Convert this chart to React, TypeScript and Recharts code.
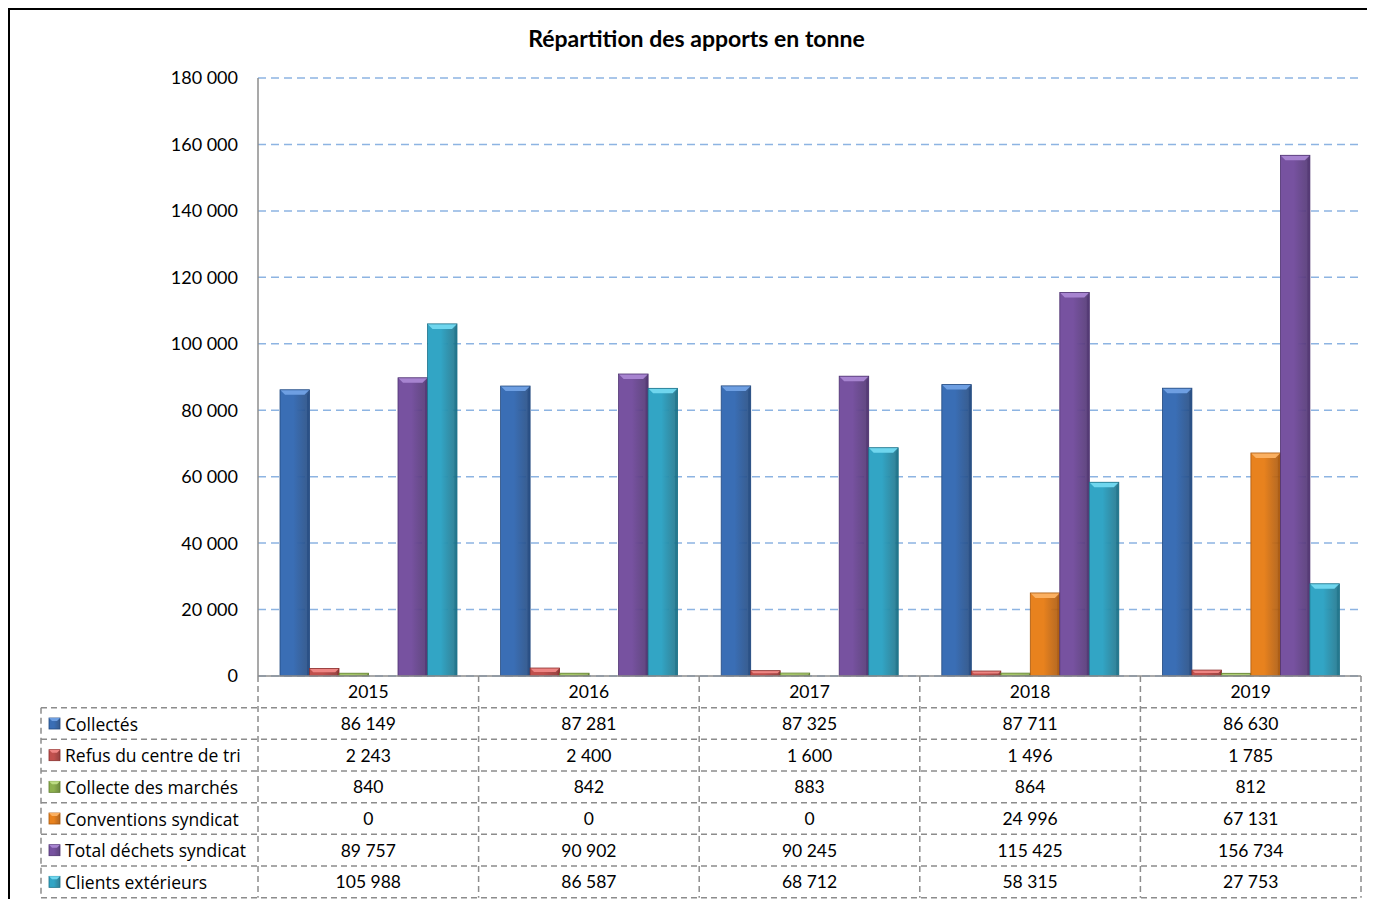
import { BarChart, Bar, XAxis, YAxis, CartesianGrid } from "recharts";

const years = ["2015", "2016", "2017", "2018", "2019"];
const collectes = [86149, 87281, 87325, 87711, 86630];
const refus = [2243, 2400, 1600, 1496, 1785];
const marches = [840, 842, 883, 864, 812];
const conventions = [0, 0, 0, 24996, 67131];
const totalSyndicat = [89757, 90902, 90245, 115425, 156734];
const clients = [105988, 86587, 68712, 58315, 27753];
const yTicks = [0, 20000, 40000, 60000, 80000, 100000, 120000, 140000, 160000, 180000];

const SERIES = [
  { key: "collectes", name: "Collectés", values: collectes, color: "#3A6EB5", light: "#6E9FE2", dark: "#234A80" },
  { key: "refus", name: "Refus du centre de tri", values: refus, color: "#C0504D", light: "#EE8583", dark: "#8A2F2D" },
  { key: "marches", name: "Collecte des marchés", values: marches, color: "#8DB04F", light: "#BDDC84", dark: "#5F7D2C" },
  { key: "conventions", name: "Conventions syndicat", values: conventions, color: "#E8821E", light: "#FBB061", dark: "#A9570C" },
  { key: "total", name: "Total déchets syndicat", values: totalSyndicat, color: "#7752A0", light: "#A784D0", dark: "#4E3370" },
  { key: "clients", name: "Clients extérieurs", values: clients, color: "#32A5C5", light: "#6FD6EE", dark: "#1D7289" },
];

const rows = years.map((year, i) => {
  const r: Record<string, string | number> = { year };
  SERIES.forEach((s) => (r[s.key] = s.values[i]));
  return r;
});

const W = 1367;
const H = 891;
const PLOT_LEFT = 250;
const PLOT_RIGHT = 1353;
const PLOT_TOP = 70;
const PLOT_BOTTOM = 668;
const ROW_H = 31.67;
const TABLE_LEFT = 33;
const FONT = "Lato, 'Open Sans', sans-serif";
const LABEL_FONT = "'Open Sans', Lato, sans-serif";

const fmt = (n: number) => String(n).replace(/\B(?=(\d{3})+(?!\d))/g, " ");

function BevelBar(props: any) {
  const { x, y, width, height, s } = props;
  if (!height || height <= 0) return null;
  const b = Math.min(5, height / 2, width / 4);
  return (
    <g>
      <rect x={x} y={y} width={width} height={height} fill={`url(#grad-${s.key})`} />
      <polygon
        points={`${x},${y} ${x + width},${y} ${x + width - b},${y + b} ${x + b},${y + b}`}
        fill={s.light}
      />
      <polygon
        points={`${x + width},${y} ${x + width - b / 2},${y + b} ${x + width - b / 2},${y + height} ${x + width},${y + height}`}
        fill={s.dark}
        opacity={0.6}
      />
      <rect x={x} y={y} width={width} height={height} fill="none" stroke={s.dark} strokeWidth={0.8} />
    </g>
  );
}

function TableTick(props: any) {
  const { x, y, payload } = props;
  const i = payload.index;
  return (
    <g fontFamily={FONT} fontSize={17.5} fill="#000">
      <text x={x} y={y + ROW_H * 0.5} textAnchor="middle" dominantBaseline="central">
        {years[i]}
      </text>
      {SERIES.map((s, k) => (
        <text key={s.key} x={x} y={y + ROW_H * (k + 1.5)} textAnchor="middle" dominantBaseline="central">
          {fmt(s.values[i])}
        </text>
      ))}
    </g>
  );
}

function TableOverlay() {
  const band = (PLOT_RIGHT - PLOT_LEFT) / years.length;
  const bottom = PLOT_BOTTOM + ROW_H * 7;
  const dash = { stroke: "#8C8C8C", strokeWidth: 1.5, strokeDasharray: "6 4" };
  return (
    <svg width={W} height={H} style={{ position: "absolute", left: 0, top: 0, pointerEvents: "none" }}>
      <text x={688.5} y={39} textAnchor="middle" fontFamily={FONT} fontWeight="bold" fontSize={23}>
        Répartition des apports en tonne
      </text>
      {SERIES.map((s, k) => {
        const yl = PLOT_BOTTOM + ROW_H * (k + 1);
        return <line key={s.key} x1={TABLE_LEFT} x2={PLOT_RIGHT} y1={yl} y2={yl} {...dash} />;
      })}
      <line x1={TABLE_LEFT} x2={PLOT_RIGHT} y1={bottom} y2={bottom} {...dash} />
      <line x1={TABLE_LEFT} x2={TABLE_LEFT} y1={PLOT_BOTTOM + ROW_H} y2={bottom} {...dash} />
      {years.map((_, k) => (
        <line key={k} x1={PLOT_LEFT + band * k} x2={PLOT_LEFT + band * k} y1={PLOT_BOTTOM} y2={bottom} {...dash} />
      ))}
      <line x1={PLOT_RIGHT} x2={PLOT_RIGHT} y1={PLOT_BOTTOM} y2={bottom} {...dash} />
      {SERIES.map((s, k) => {
        const cy = PLOT_BOTTOM + ROW_H * (k + 1.5);
        return (
          <g key={s.key}>
            <rect x={TABLE_LEFT + 8} y={cy - 5.5} width={11} height={11} fill={`url(#grad-${s.key})`} stroke={s.dark} strokeWidth={0.8} />
            <polygon
              points={`${TABLE_LEFT + 8},${cy - 5.5} ${TABLE_LEFT + 19},${cy - 5.5} ${TABLE_LEFT + 16},${cy - 2.5} ${TABLE_LEFT + 11},${cy - 2.5}`}
              fill={s.light}
            />
            <text x={TABLE_LEFT + 24} y={cy} dominantBaseline="central" fontFamily={LABEL_FONT} fontSize={17.5} fill="#000">
              {s.name}
            </text>
          </g>
        );
      })}
    </svg>
  );
}

export default function App() {
  return (
    <div style={{ position: "relative", width: W, height: H }}>
      <style>{`html, body { overflow: hidden; }`}</style>
      <div
        style={{
          position: "absolute",
          left: 0,
          top: 0,
          width: W + 20,
          height: H + 20,
          borderTop: "2px solid #000",
          borderLeft: "2px solid #000",
          boxSizing: "border-box",
        }}
      />
      <div style={{ position: "absolute", left: 0, top: 0 }}>
        <BarChart
          width={W}
          height={H}
          data={rows}
          margin={{ top: PLOT_TOP, right: W - PLOT_RIGHT, bottom: 0, left: 0 }}
          barSize={29.5}
          barGap={0}
        >
          <defs>
            {SERIES.map((s) => (
              <linearGradient key={s.key} id={`grad-${s.key}`} x1="0" y1="0" x2="1" y2="0">
                <stop offset="0%" stopColor={s.color} />
                <stop offset="45%" stopColor={s.color} />
                <stop offset="100%" stopColor={s.dark} stopOpacity={0.9} />
              </linearGradient>
            ))}
          </defs>
          <CartesianGrid vertical={false} stroke="#8DB4E2" strokeDasharray="8 5" strokeWidth={1.5} />
          <XAxis
            dataKey="year"
            height={H - PLOT_BOTTOM}
            axisLine={{ stroke: "#8C8C8C", strokeWidth: 1.5 }}
            tickLine={false}
            tickSize={0}
            tickMargin={0}
            interval={0}
            tick={<TableTick />}
          />
          <YAxis
            width={PLOT_LEFT}
            domain={[0, 180000]}
            ticks={yTicks}
            tickFormatter={fmt}
            axisLine={{ stroke: "#8C8C8C", strokeWidth: 1.5 }}
            tickLine={false}
            tickMargin={14}
            tick={{ fontSize: 18, fill: "#000", fontFamily: FONT }}
          />
          {SERIES.map((s) => (
            <Bar
              key={s.key}
              dataKey={s.key}
              name={s.name}
              fill={s.color}
              isAnimationActive={false}
              shape={(p: any) => <BevelBar {...p} s={s} />}
            />
          ))}
        </BarChart>
      </div>
      <TableOverlay />
    </div>
  );
}
